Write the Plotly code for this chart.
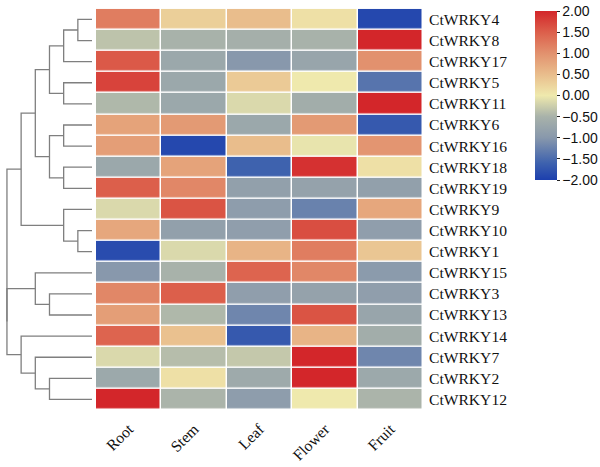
import plotly.graph_objects as go

genes = ["CtWRKY4", "CtWRKY8", "CtWRKY17", "CtWRKY5", "CtWRKY11", "CtWRKY6", "CtWRKY16",
         "CtWRKY18", "CtWRKY19", "CtWRKY9", "CtWRKY10", "CtWRKY1", "CtWRKY15", "CtWRKY3",
         "CtWRKY13", "CtWRKY14", "CtWRKY7", "CtWRKY2", "CtWRKY12"]
tissues = ["Root", "Stem", "Leaf", "Flower", "Fruit"]

root = [1.2, -0.35, 1.55, 1.75, -0.45, 0.8, 0.85, -0.7, 1.5, -0.15, 0.75, -1.85, -1.0, 1.1, 0.85, 1.45, -0.15, -0.68, 2.0]
stem = [0.3, -0.5, -0.7, -0.7, -0.7, 0.9, -1.9, 0.8, 1.1, 1.6, -0.85, -0.15, -0.5, 1.5, -0.45, 0.45, -0.4, 0.1, -0.48]
leaf = [0.5, -0.55, -1.0, 0.35, -0.15, -0.7, 0.5, -1.6, -0.85, -0.9, -0.88, 0.6, 1.45, -0.88, -1.2, -1.7, -0.3, -0.65, -0.9]
flower = [0.1, -0.5, -0.75, 0.0, -0.6, 0.9, -0.05, 1.9, -0.8, -1.25, 1.65, 1.2, 1.1, -0.8, 1.6, 0.6, 2.0, 2.0, 0.0]
fruit = [-1.9, 2.0, 1.0, -1.4, 2.0, -1.7, 0.95, 0.1, -0.85, 0.75, -0.88, 0.4, -0.95, -0.88, -0.75, -0.6, -1.2, -0.68, -0.48]

cbar_ticks = [2.0, 1.5, 1.0, 0.5, 0.0, -0.5, -1.0, -1.5, -2.0]

# dendrogram linkage: (left child, right child, height); leaves 0..18, internal nodes 19+
linkage = [
    (0, 1, 1),      # 19
    (19, 2, 2),     # 20
    (3, 4, 2),      # 21
    (20, 21, 3),    # 22
    (5, 6, 2),      # 23
    (7, 8, 2),      # 24
    (23, 24, 3),    # 25
    (22, 25, 4),    # 26
    (10, 11, 1),    # 27
    (9, 27, 2),     # 28
    (26, 28, 5),    # 29
    (13, 14, 3),    # 30
    (12, 30, 4),    # 31
    (17, 18, 3),    # 32
    (16, 32, 4),    # 33
    (15, 33, 5),    # 34
    (31, 34, 6),    # 35
    (29, 35, 6),    # 36
]

z = [list(r) for r in zip(root, stem, leaf, flower, fruit)]

colorscale = [
    [0.0, "#1c3fae"],
    [0.1, "#3e62ae"],
    [0.25, "#8898ac"],
    [0.375, "#a8b2aa"],
    [0.5, "#efe9ad"],
    [0.625, "#e9bd8c"],
    [0.75, "#e2916e"],
    [0.875, "#dc5f4b"],
    [1.0, "#d3262a"],
]

fig = go.Figure()
fig.add_trace(go.Heatmap(
    z=z, x=list(range(len(tissues))), y=list(range(len(genes))),
    zmin=-2, zmax=2, colorscale=colorscale, xgap=1.5, ygap=1.5,
    colorbar=dict(
        x=0.892, xanchor="left", y=1 - 95.5 / 467, yanchor="middle",
        len=169 / 467, lenmode="fraction", thickness=22, thicknessmode="pixels",
        outlinewidth=0, tickvals=cbar_ticks, tickformat=".2f",
        ticks="outside", ticklen=3, tickcolor="#222", tickwidth=1,
        xpad=0, ypad=0,
        tickfont=dict(family="Liberation Sans", size=14, color="#111"),
    ),
    hoverinfo="skip",
))

# dendrogram segments computed from the linkage
n = len(genes)
pos = {i: float(i) for i in range(n)}
hgt = {i: 0.0 for i in range(n)}
dx, dy = [], []
for k, (a, b, h) in enumerate(linkage):
    node = n + k
    ya, yb = pos[a], pos[b]
    pos[node] = (ya + yb) / 2
    hgt[node] = h
    dx += [hgt[a], h, h, hgt[b], None]
    dy += [ya, ya, yb, yb, None]

fig.add_trace(go.Scatter(x=dx, y=dy, xaxis="x2", yaxis="y", mode="lines",
                         line=dict(color="#7f7f7f", width=1.3), hoverinfo="skip",
                         showlegend=False))

fig.update_layout(
    width=600, height=467, margin=dict(l=0, r=0, t=0, b=0, autoexpand=False),
    paper_bgcolor="white", plot_bgcolor="white", showlegend=False,
    xaxis=dict(domain=[0.16, 0.705], range=[-0.5, 4.5], tickvals=list(range(5)),
               ticktext=tissues, tickangle=-45, showgrid=False, zeroline=False,
               ticks="", ticklabelstandoff=6, automargin=False,
               tickfont=dict(family="Liberation Serif", size=15.6, color="#111")),
    yaxis=dict(domain=[0.122, 0.981], range=[18.5, -0.5], side="right",
               tickvals=list(range(n)), ticktext=genes, showgrid=False, zeroline=False,
               ticks="", ticklabelstandoff=5, automargin=False,
               tickfont=dict(family="Liberation Serif", size=15.6, color="#111")),
    xaxis2=dict(domain=[0.0, 0.16], range=[6.49, -0.28], anchor="y", visible=False,
                showgrid=False, zeroline=False),
)

fig.write_html("out.html", config={"displayModeBar": False},
               post_script="document.body.style.margin='0';document.body.style.padding='0';")
